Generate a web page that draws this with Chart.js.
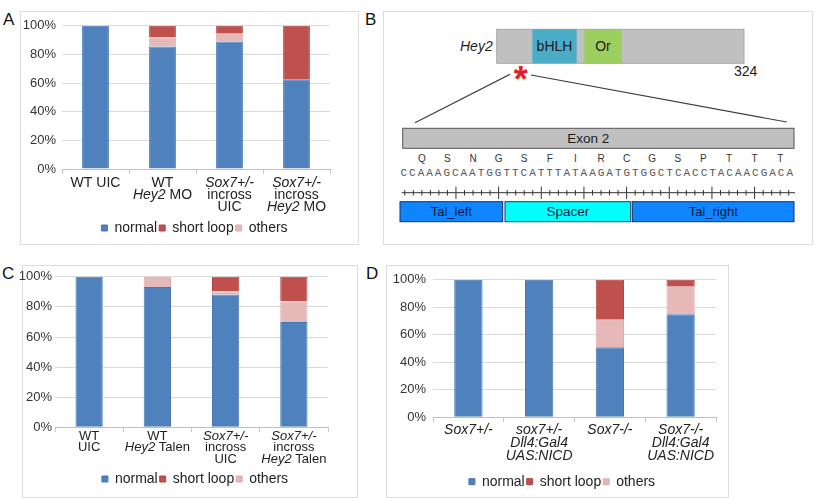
<!DOCTYPE html>
<html><head><meta charset="utf-8">
<script src="https://cdn.jsdelivr.net/npm/chart.js@4.4.1/dist/chart.umd.min.js"></script>
<style>
html,body{margin:0;padding:0;background:#fff;}
body{width:822px;height:498px;position:relative;overflow:hidden;font-family:"Liberation Sans",Arial,sans-serif;}
.frame{position:absolute;box-sizing:border-box;border:1px solid #dcdcdc;}
.lbl{position:absolute;font-size:17px;line-height:17px;color:#111;}
canvas{position:absolute;}
svg{position:absolute;}
</style></head><body>
<div class="frame" style="left:20px;top:11px;width:339px;height:234px"></div>
<div class="frame" style="left:383px;top:11px;width:430px;height:234px"></div>
<div class="frame" style="left:22px;top:265px;width:336px;height:233px"></div>
<div class="frame" style="left:386px;top:265px;width:343px;height:233px"></div>
<div class="lbl" style="left:3px;top:10.8px">A</div>
<div class="lbl" style="left:365px;top:10.8px">B</div>
<div class="lbl" style="left:2px;top:264.5px">C</div>
<div class="lbl" style="left:366px;top:264.5px">D</div>
<canvas id="cA" width="347" height="233" style="left:21px;top:12px"></canvas>
<canvas id="cC" width="386" height="231" style="left:2px;top:266px"></canvas>
<canvas id="cD" width="352" height="234" style="left:386px;top:265px"></canvas>

<svg id="panelB" width="430" height="234" viewBox="383 11 430 234" style="left:383px;top:11px" font-family="Liberation Sans, Arial, sans-serif">
  <text x="492.7" y="51" text-anchor="end" font-style="italic" font-size="14" fill="#1e1e1e">Hey2</text>
  <rect x="496.7" y="29.3" width="247.3" height="34" fill="#c0c0c0" stroke="#a8a8a8" stroke-width="1"/>
  <rect x="532.3" y="29.3" width="44.4" height="34" fill="#4bacc6"/>
  <text x="554.5" y="51" text-anchor="middle" font-size="14" fill="#1b1b1b">bHLH</text>
  <rect x="584.3" y="29.3" width="37.4" height="34" fill="#9ccf60"/>
  <text x="603" y="51" text-anchor="middle" font-size="14" fill="#1b1b1b">Or</text>
  <text x="734" y="76" font-size="14" fill="#1b1b1b">324</text>
  <text x="520.7" y="92" text-anchor="middle" font-size="36" font-weight="bold" fill="#e31e24">*</text>
  <line x1="510" y1="74.3" x2="415" y2="122.7" stroke="#3a3a3a" stroke-width="1.1"/>
  <line x1="531" y1="75" x2="786.7" y2="122" stroke="#3a3a3a" stroke-width="1.1"/>
  <rect x="402.7" y="128.3" width="391.3" height="20" fill="#c0c0c0" stroke="#555" stroke-width="1"/>
  <text x="588.3" y="143" text-anchor="middle" font-size="13.5" fill="#1b1b1b">Exon 2</text>
  <g id="aaRow" font-size="10" fill="#333" text-anchor="middle"></g>
  <text id="dnaRow" x="400.5" y="175.5" font-family="Liberation Mono, monospace" font-size="11" fill="#555" textLength="392.5" lengthAdjust="spacing"></text>
  <g id="ruler" stroke="#333" stroke-width="1"></g>
  <rect x="400" y="201.7" width="102.7" height="20" fill="#0f86ff" stroke="#1c2e5c" stroke-width="1"/>
  <text x="451.3" y="216.3" text-anchor="middle" font-size="13" fill="#0b1a3c">Tal_left</text>
  <rect x="505" y="201.7" width="125.7" height="20" fill="#00ffff" stroke="#1c3a5a" stroke-width="1"/>
  <text x="567.8" y="216.3" text-anchor="middle" font-size="13.5" fill="#0b2a3a">Spacer</text>
  <rect x="632.3" y="201.7" width="161.7" height="20" fill="#0f86ff" stroke="#1c2e5c" stroke-width="1"/>
  <text x="713.2" y="216.3" text-anchor="middle" font-size="13" fill="#0b1a3c">Tal_right</text>
</svg>

<script>
// ---------- data ----------
const seriesNames = ['normal', 'short loop', 'others'];
const yTickLabels = ['0%', '20%', '40%', '60%', '80%', '100%'];

const catsA = [['WT UIC'], ['WT', '*Hey2* MO'], ['*Sox7+/-*', 'incross', 'UIC'], ['*Sox7+/-*', 'incross', '*Hey2* MO']];
const normalA = [100, 85.5, 89, 62.7];
const shortLoopA = [0, 8, 5, 37.3];
const othersA = [0, 6.5, 6, 0];

const catsC = [['WT', 'UIC'], ['WT', '*Hey2* Talen'], ['*Sox7+/-*', 'incross', 'UIC'], ['*Sox7+/-*', 'incross', '*Hey2* Talen']];
const normalC = [100, 93.3, 88.3, 70];
const shortLoopC = [0, 0, 9.8, 16.3];
const othersC = [0, 6.7, 1.9, 13.7];

const catsD = [['*Sox7+/-*'], ['*sox7+/-*', '*Dll4:Gal4*', '*UAS:NICD*'], ['*Sox7-/-*'], ['*Sox7-/-*', '*Dll4:Gal4*', '*UAS:NICD*']];
const normalD = [100, 100, 51, 75];
const shortLoopD = [0, 0, 29, 4.5];
const othersD = [0, 0, 20, 20.5];

// panel B text
const aminoAcids = ['Q', 'S', 'N', 'G', 'S', 'F', 'I', 'R', 'C', 'G', 'S', 'P', 'T', 'T', 'T'];
const dnaSeq = 'CCAAAGCAATGGTTCATTTATAAGATGTGGCTCACCTACAACGACA';

// ---------- styles ----------
const FONT = '"Liberation Sans", Arial, sans-serif';
Chart.defaults.font.family = FONT;
const fills = { 'normal': '#4f81bd', 'short loop': '#c0504d', 'others': '#e6b9b8' };
const edges = { 'normal': '#4677b0', 'short loop': '#b24643', 'others': '#dcadac' };

const richLabels = {
  id: 'richLabels',
  afterDraw(chart, args, o) {
    const { ctx, chartArea } = chart;
    const xs = chart.scales.x;
    ctx.save();
    ctx.fillStyle = o.color;
    ctx.textBaseline = 'middle';
    ctx.textAlign = 'left';
    o.lines.forEach((lines, i) => {
      const cx = xs.getPixelForValue(i);
      lines.forEach((line, j) => {
        const y = chartArea.bottom + o.first + j * o.gap;
        const segs = line.split('*').map((t, k) => ({ t, it: k % 2 === 1 })).filter(s => s.t.length);
        let w = 0;
        segs.forEach(s => { ctx.font = (s.it ? 'italic ' : '') + o.size + 'px ' + FONT; s.w = ctx.measureText(s.t).width; w += s.w; });
        let x = cx - w / 2;
        segs.forEach(s => { ctx.font = (s.it ? 'italic ' : '') + o.size + 'px ' + FONT; ctx.fillText(s.t, x, y); x += s.w; });
      });
    });
    ctx.restore();
  }
};

function ds(name, data) {
  return { label: name, data, backgroundColor: fills[name], borderColor: edges[name], borderWidth: 1 };
}

function makeChart(id, cats, normal, shortLoop, others, L) {
  const labels = cats.map(c => c.join(' ').replace(/\*/g, ''));
  return new Chart(document.getElementById(id), {
    type: 'bar',
    data: { labels, datasets: [ds('normal', normal), ds('others', others), ds('short loop', shortLoop)] },
    options: {
      responsive: false, animation: false, events: [],
      layout: { padding: L.pad },
      datasets: { bar: { categoryPercentage: 1, barPercentage: 0.4 } },
      scales: {
        x: {
          stacked: true, offset: true,
          grid: { offset: true, drawOnChartArea: false, color: '#c8c8c8', tickLength: 5 },
          border: { color: '#bfbfbf' },
          ticks: { display: false },
          afterFit: s => { s.height = L.xh; }
        },
        y: {
          stacked: true, min: 0, max: 100,
          grid: { color: '#d9d9d9', drawTicks: false },
          border: { display: false },
          ticks: { stepSize: 20, padding: L.yp, color: '#333', font: { size: 13 }, callback: v => yTickLabels[Math.round(v / 20)] },
          afterFit: s => { s.width = L.yw; }
        },
        // empty right-hand spacer so the legend is centred like the original
        spacer: {
          type: 'linear', position: 'right', display: true,
          grid: { display: false }, border: { display: false }, ticks: { display: false },
          afterFit: s => { s.width = L.rw; }
        }
      },
      plugins: {
        legend: {
          position: 'bottom', fullSize: true,
          labels: { boxWidth: 6, boxHeight: 6, padding: 2, color: '#222', font: { size: 14 },
            sort: (a, b) => seriesNames.indexOf(a.text) - seriesNames.indexOf(b.text) }
        },
        tooltip: { enabled: false },
        richLabels: { lines: cats, size: L.fs, first: L.first, gap: L.gap, color: '#222' }
      }
    },
    plugins: [richLabels]
  });
}

makeChart('cA', catsA, normalA, shortLoopA, othersA,
  { pad: { left: 0, right: 0, top: 8.7, bottom: 0 }, yw: 41, rw: 38, xh: 50, yp: 6, fs: 14, first: 14, gap: 12.3 });
makeChart('cC', catsC, normalC, shortLoopC, othersC,
  { pad: { left: 0, right: 0, top: 8, bottom: 1 }, yw: 53, rw: 60, xh: 42.7, yp: 3, fs: 13, first: 8.7, gap: 11.7 });
makeChart('cD', catsD, normalD, shortLoopD, othersD,
  { pad: { left: 0, right: 0, top: 12, bottom: 0.3 }, yw: 47, rw: 22, xh: 55.4, yp: 7, fs: 14, first: 12.7, gap: 13.3 });

// ---------- panel B (schematic) ----------
(function () {
  const NS = 'http://www.w3.org/2000/svg';
  const x0 = 400.5, x1 = 793;
  const nt = (x1 - x0) / dnaSeq.length;
  document.getElementById('dnaRow').textContent = dnaSeq;
  const aa = document.getElementById('aaRow');
  aminoAcids.forEach((a, k) => {
    const t = document.createElementNS(NS, 'text');
    t.setAttribute('x', (x0 + (2.5 + 3 * k) * nt).toFixed(1));
    t.setAttribute('y', '161.8');
    t.textContent = a;
    aa.appendChild(t);
  });
  const r = document.getElementById('ruler');
  const ln = (a, b, c, d) => { const l = document.createElementNS(NS, 'line'); l.setAttribute('x1', a); l.setAttribute('y1', b); l.setAttribute('x2', c); l.setAttribute('y2', d); r.appendChild(l); };
  ln(401.7, 192.7, 795, 192.7);
  for (let k = 0; k < dnaSeq.length; k++) {
    const x = x0 + (k + 0.5) * nt;
    if ((k - 1) % 5 === 0 && k > 1) ln(x, 186.7, x, 199); else ln(x, 190, x, 195.5);
  }
})();
</script>
</body></html>
